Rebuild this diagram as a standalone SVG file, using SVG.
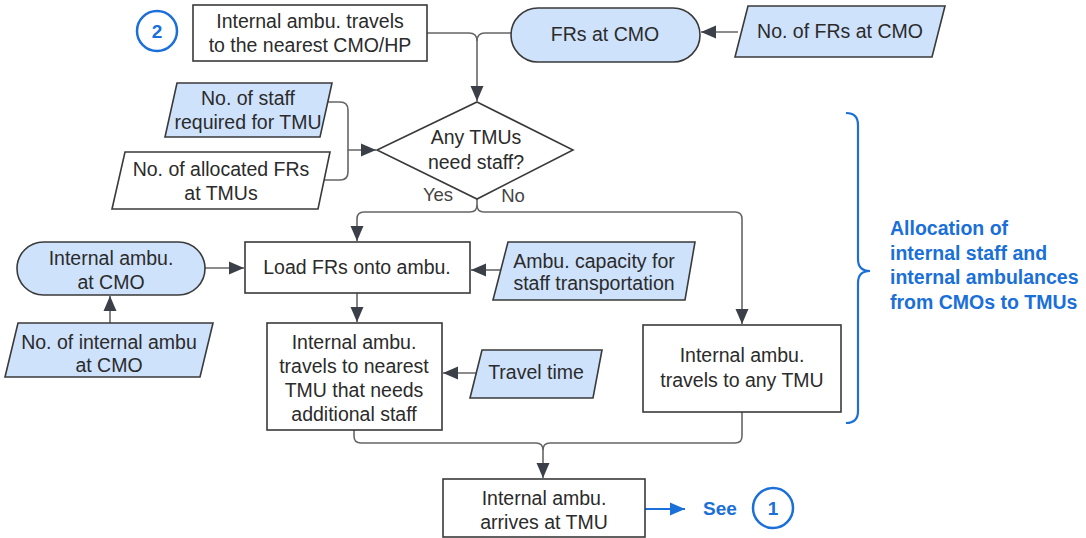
<svg xmlns="http://www.w3.org/2000/svg" width="1086" height="538" viewBox="0 0 1086 538">
<defs>
<marker id="ah" markerUnits="userSpaceOnUse" markerWidth="16" markerHeight="14" refX="15" refY="7" orient="auto">
<path d="M0,0.5 L15,7 L0,13.5 z" fill="#3b3f47"/>
</marker>
<marker id="ahb" markerUnits="userSpaceOnUse" markerWidth="16" markerHeight="14" refX="15" refY="7" orient="auto">
<path d="M0,0.5 L15,7 L0,13.5 z" fill="#1a6fd8"/>
</marker>
<style>
.box{fill:#ffffff;stroke:#3a3a3a;stroke-width:1.6}
.in{fill:#cfe2fc;stroke:#3a3a3a;stroke-width:1.6}
.w{fill:#ffffff;stroke:#3a3a3a;stroke-width:1.6}
.t{font-family:"Liberation Sans",Arial,sans-serif;font-size:19.5px;fill:#2b2b2b;text-anchor:middle;dominant-baseline:central}
.c{fill:none;stroke:#666666;stroke-width:1.6}
.b{font-family:"Liberation Sans",Arial,sans-serif;font-weight:bold;fill:#1a6fd8}
.lbl{font-family:"Liberation Sans",Arial,sans-serif;font-size:18.5px;fill:#444;text-anchor:middle;dominant-baseline:central}
</style>
</defs>
<rect width="1086" height="538" fill="#ffffff"/>

<g id="connectors">
<path class="c" d="M427,33 L469,33 Q477,33 477,41 L477,101" marker-end="url(#ah)"/>
<path class="c" d="M511,33 L485,33 Q477,33 477,41"/>
<path class="c" d="M738,32 L701,32" marker-end="url(#ah)"/>
<path class="c" d="M328,102 L340,102 Q348,102 348,110 L348,150 L376,150" marker-end="url(#ah)"/>
<path class="c" d="M321,180 L340,180 Q348,180 348,172 L348,150"/>
<path class="c" d="M477,199 L477,205 Q477,212 470,212 L364,212 Q357,212 357,219 L357,241" marker-end="url(#ah)"/>
<path class="c" d="M477,205 Q477,212 484,212 L735,212 Q742,212 742,219 L742,324" marker-end="url(#ah)"/>
<path class="c" d="M205,268 L244,268" marker-end="url(#ah)"/>
<path class="c" d="M110,323 L110,296" marker-end="url(#ah)"/>
<path class="c" d="M502,270 L471,270" marker-end="url(#ah)"/>
<path class="c" d="M357,293 L357,322" marker-end="url(#ah)"/>
<path class="c" d="M478,373 L443,373" marker-end="url(#ah)"/>
<path class="c" d="M354,430 L354,436 Q354,443 361,443 L536,443 Q543,443 543,450 L543,478" marker-end="url(#ah)"/>
<path class="c" d="M742,412 L742,436 Q742,443 735,443 L550,443 Q543,443 543,450"/>
<path d="M645,509 L685,509" fill="none" stroke="#1a6fd8" stroke-width="1.8" marker-end="url(#ahb)"/>
</g>

<g id="circle2">
<circle cx="157" cy="31" r="20" fill="#ffffff" stroke="#1a6fd8" stroke-width="2.5"/>
<text class="b" x="157" y="31" font-size="19" text-anchor="middle" dominant-baseline="central">2</text>
</g>

<g id="travel-cmo">
<rect class="box" x="193" y="5" width="234" height="56"/>
<text class="t" x="310" y="21">Internal ambu. travels</text>
<text class="t" x="310" y="45">to the nearest CMO/HP</text>
</g>

<g id="frs-cmo">
<rect class="in" x="511" y="8" width="189" height="54" rx="27" ry="27"/>
<text class="t" x="605" y="34">FRs at CMO</text>
</g>

<g id="no-frs-cmo">
<polygon class="in" points="748,6 945,6 932,57 735,57"/>
<text class="t" x="840" y="31">No. of FRs at CMO</text>
</g>

<g id="decision">
<polygon class="w" points="477,102 573,150 477,199 377,150"/>
<text class="t" x="476" y="137">Any TMUs</text>
<text class="t" x="476" y="162">need staff?</text>
</g>

<g id="staff-required">
<polygon class="in" points="177,83 332,83 320,137 165,137"/>
<text class="t" x="248" y="98">No. of staff</text>
<text class="t" x="248" y="122">required for TMU</text>
</g>

<g id="allocated-frs">
<polygon class="w" points="125,152 330,152 318,209 112,209"/>
<text class="t" x="221" y="169">No. of allocated FRs</text>
<text class="t" x="221" y="193">at TMUs</text>
</g>

<g id="yes-no">
<text class="lbl" x="438" y="194">Yes</text>
<text class="lbl" x="513" y="195">No</text>
</g>

<g id="ambu-cmo">
<rect class="in" x="17" y="242" width="188" height="53" rx="26.5" ry="26.5"/>
<text class="t" x="111" y="258">Internal ambu.</text>
<text class="t" x="111" y="282">at CMO</text>
</g>

<g id="load-frs">
<rect class="box" x="245" y="242" width="225" height="51"/>
<text class="t" x="357" y="267">Load FRs onto ambu.</text>
</g>

<g id="capacity">
<polygon class="in" points="508,242 695,242 685,300 493,300"/>
<text class="t" x="594" y="261">Ambu. capacity for</text>
<text class="t" x="594" y="283">staff transportation</text>
</g>

<g id="no-internal-ambu">
<polygon class="in" points="18,323 213,323 200,377 5,377"/>
<text class="t" x="109" y="342">No. of internal ambu</text>
<text class="t" x="109" y="365">at CMO</text>
</g>

<g id="travel-nearest">
<rect class="box" x="267" y="323" width="175" height="107"/>
<text class="t" x="354" y="342">Internal ambu.</text>
<text class="t" x="354" y="366">travels to nearest</text>
<text class="t" x="354" y="390">TMU that needs</text>
<text class="t" x="354" y="414">additional staff</text>
</g>

<g id="travel-time">
<polygon class="in" points="482,350 602,350 593,398 470,398"/>
<text class="t" x="536" y="372">Travel time</text>
</g>

<g id="travel-any">
<rect class="box" x="643" y="325" width="198" height="87"/>
<text class="t" x="742" y="355">Internal ambu.</text>
<text class="t" x="742" y="380">travels to any TMU</text>
</g>

<g id="arrives">
<rect class="box" x="443" y="479" width="202" height="58"/>
<text class="t" x="544" y="498">Internal ambu.</text>
<text class="t" x="544" y="522">arrives at TMU</text>
</g>

<g id="see1">
<text class="b" x="703" y="508" font-size="19" dominant-baseline="central">See</text>
<circle cx="773" cy="508" r="20" fill="#ffffff" stroke="#1a6fd8" stroke-width="2.5"/>
<text class="b" x="773" y="508" font-size="19" text-anchor="middle" dominant-baseline="central">1</text>
</g>

<g id="brace">
<path d="M846,113 Q858,113 858,125 L858,259 Q858,271 870,271 Q858,271 858,283 L858,411 Q858,423 846,423" fill="none" stroke="#1a6fd8" stroke-width="2.2"/>
<text class="b" font-size="19.5" x="890" y="228" dominant-baseline="central">Allocation of</text>
<text class="b" font-size="19.5" x="890" y="253" dominant-baseline="central">internal staff and</text>
<text class="b" font-size="19.5" x="890" y="277" dominant-baseline="central">internal ambulances</text>
<text class="b" font-size="19.5" x="890" y="302" dominant-baseline="central">from CMOs to TMUs</text>
</g>
</svg>
